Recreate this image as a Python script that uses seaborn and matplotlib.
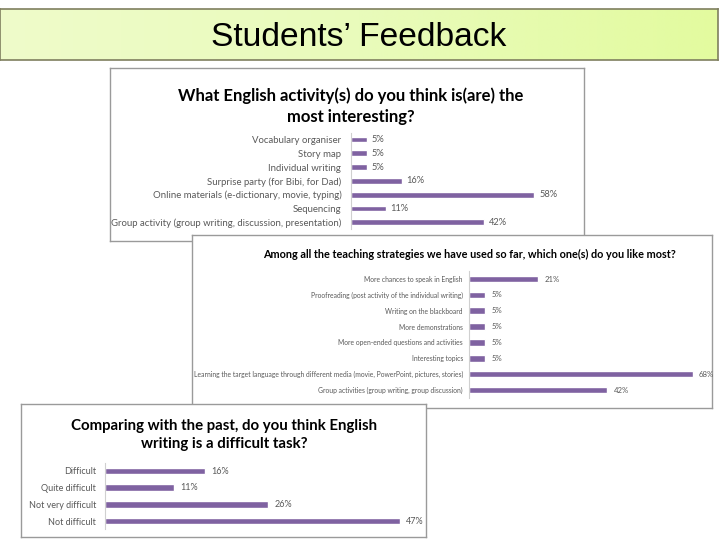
import numpy as np
import pandas as pd
import matplotlib
matplotlib.use("Agg")
import matplotlib.pyplot as plt
from matplotlib.colors import LinearSegmentedColormap
import seaborn as sns

# ---------------- data ----------------
slide_title = "Students\u2019 Feedback"

act_title = "What English activity(s) do you think is(are) the\nmost interesting?"
act_cats = ["Vocabulary organiser", "Story map", "Individual writing",
            "Surprise party (for Bibi, for Dad)",
            "Online materials (e-dictionary, movie, typing)", "Sequencing",
            "Group activity (group writing, discussion, presentation)"]
act_vals = [5, 5, 5, 16, 58, 11, 42]

strat_title = "Among all the teaching strategies we have used so far, which one(s) do you like most?"
strat_cats = ["More chances to speak in English",
              "Proofreading (post activity of the individual writing)",
              "Writing on the blackboard", "More demonstrations",
              "More open-ended questions and activities", "Interesting topics",
              "Learning the target language through different media (movie, PowerPoint, pictures, stories)",
              "Group activities (group writing, group discussion)"]
strat_vals = [21, 5, 5, 5, 5, 5, 68, 42]

diff_title = "Comparing with the past, do you think English\nwriting is a difficult task?"
diff_cats = ["Difficult", "Quite difficult", "Not very difficult", "Not difficult"]
diff_vals = [16, 11, 26, 47]

# ---------------- style ----------------
sns.set_theme(style="white")
plt.rcParams['font.family'] = ['Lato', 'DejaVu Sans']

W, H = 720, 540
BAR = "#7f62a1"
LBL = "#595959"
fig = plt.figure(figsize=(7.2, 5.4), dpi=100)


def rect(x0, y0, x1, y1):
    return [x0 / W, 1 - y1 / H, (x1 - x0) / W, (y1 - y0) / H]


# banner
bax = fig.add_axes(rect(0, 9, 718, 60), zorder=1)
grad = np.linspace(0, 1, 256).reshape(1, -1)
cmap = LinearSegmentedColormap.from_list("g", ["#effcca", "#e9fbbb", "#e3fb9f"])
bax.imshow(grad, aspect="auto", cmap=cmap, extent=[0, 1, 0, 1])
bax.set_xticks([]); bax.set_yticks([])
for s in bax.spines.values():
    s.set_color("#7f7f5f"); s.set_linewidth(1.2)
fig.text(359 / W, 1 - 37 / H, slide_title, ha="center", va="center",
         fontsize=24.2, family=["Liberation Sans"], color="black")


def panel(frame, z, cats, vals, axis_x, right_x, scale, first_y, step,
          bw, tick_fs, val_fs, tick_pad, val_pad, title, title_xy, title_fs,
          title_ls):
    fx = fig.add_axes(rect(*frame), zorder=z)
    fx.set_facecolor("white")
    fx.set_xticks([]); fx.set_yticks([])
    for s in fx.spines.values():
        s.set_color("#9a9a9a"); s.set_linewidth(1.0)
    n = len(cats)
    top = first_y - step / 2
    bot = top + n * step
    ax = fig.add_axes(rect(axis_x, top, right_x, bot), zorder=z + 0.5)
    ax.patch.set_alpha(0)
    df = pd.DataFrame({"cat": cats, "val": vals})
    sns.barplot(data=df, x="val", y="cat", orient="h", color=BAR,
                width=bw, saturation=1, ax=ax)
    ax.set_xlim(0, (right_x - axis_x) / scale)
    ax.set_ylim(n - 0.5, -0.5)
    ax.set_xlabel(""); ax.set_ylabel("")
    ax.set_xticks([])
    ax.tick_params(axis="y", length=0, pad=tick_pad, labelsize=tick_fs,
                   labelcolor=LBL)
    for sp in ["top", "right", "bottom"]:
        ax.spines[sp].set_visible(False)
    ax.spines["left"].set_color("#d0d0d0")
    ax.spines["left"].set_linewidth(0.8)
    ax.bar_label(ax.containers[0], labels=[f"{v}%" for v in vals],
                 padding=val_pad, fontsize=val_fs, color=LBL)
    fig.text(title_xy[0] / W, 1 - title_xy[1] / H, title, ha="center",
             va="baseline", fontsize=title_fs, fontweight="bold",
             color="black", linespacing=title_ls, zorder=z + 1)


panel((110, 68, 584, 241), 2, act_cats, act_vals, 351, 580, 3.16, 139.5,
      13.8, 0.43, 6.9, 6.7, 7, 3.5, act_title, (351, 122), 12.0, 1.35)
panel((192, 235, 712, 408), 4, strat_cats, strat_vals, 469, 710, 3.29, 279,
      15.86, 0.42, 4.9, 5.6, 4.5, 4.5, strat_title, (469, 258), 7.8, 1.2)
panel((21, 404, 426, 537), 6, diff_cats, diff_vals, 105, 424, 6.28, 471,
      16.67, 0.4, 6.5, 6.5, 6.5, 4.5, diff_title, (224, 448), 10.8, 1.35)

fig.savefig("out.png", dpi=100)
